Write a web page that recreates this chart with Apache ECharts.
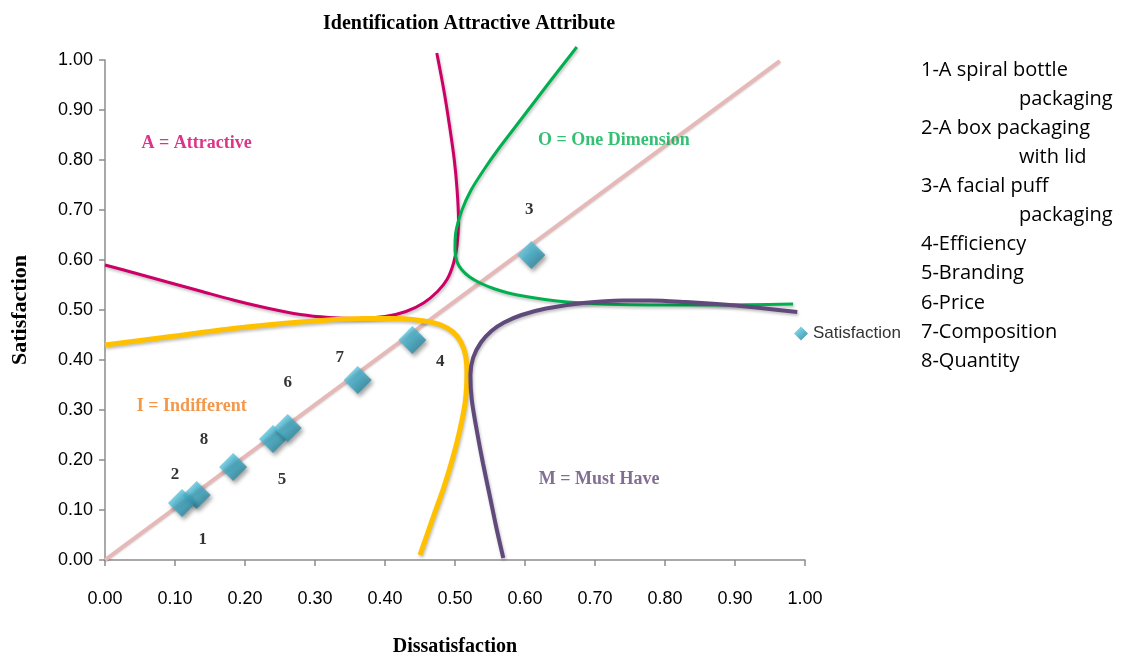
<!DOCTYPE html>
<html>
<head>
<meta charset="utf-8">
<script src="https://cdn.jsdelivr.net/npm/echarts@6/dist/echarts.min.js"></script>
<style>
  html, body { margin: 0; padding: 0; background: #fff; }
  #chart { width: 1125px; height: 658px; }
</style>
</head>
<body>
<div id="chart"></div>
<script>
// scatter points (dissatisfaction, satisfaction) and their numbers
var pointNames = ['1', '2', '3', '4', '5', '6', '7', '8'];
var pointX = [0.131, 0.110, 0.609, 0.439, 0.240, 0.261, 0.361, 0.183];
var pointY = [0.130, 0.114, 0.610, 0.440, 0.242, 0.264, 0.360, 0.186];

// diagonal reference line
var diagX = [0, 0.964];
var diagY = [0, 0.998];

// A = Attractive curve
var attrX = [0.000, 0.045, 0.089, 0.136, 0.183, 0.231, 0.279, 0.320, 0.360, 0.400, 0.430, 0.455, 0.475, 0.489, 0.498, 0.503, 0.505, 0.503, 0.499, 0.492, 0.484, 0.474];
var attrY = [0.590, 0.573, 0.556, 0.538, 0.520, 0.504, 0.491, 0.485, 0.483, 0.487, 0.497, 0.514, 0.537, 0.562, 0.594, 0.630, 0.680, 0.740, 0.800, 0.870, 0.940, 1.014];

// O = One Dimension curve
var oneX = [0.674, 0.654, 0.634, 0.610, 0.586, 0.561, 0.541, 0.523, 0.510, 0.501, 0.500, 0.503, 0.510, 0.521, 0.536, 0.557, 0.589, 0.660, 0.779, 0.874, 0.983];
var oneY = [1.026, 0.990, 0.954, 0.910, 0.866, 0.820, 0.780, 0.740, 0.700, 0.654, 0.620, 0.596, 0.580, 0.566, 0.554, 0.542, 0.530, 0.516, 0.510, 0.510, 0.512];

// I = Indifferent curve
var indX = [0.000, 0.089, 0.183, 0.279, 0.374, 0.420, 0.456, 0.480, 0.497, 0.508, 0.515, 0.517, 0.515, 0.507, 0.496, 0.484, 0.470, 0.460, 0.450];
var indY = [0.430, 0.446, 0.463, 0.476, 0.483, 0.483, 0.478, 0.470, 0.456, 0.437, 0.410, 0.374, 0.320, 0.260, 0.200, 0.145, 0.090, 0.050, 0.010];

// M = Must Have curve
var mustX = [0.569, 0.559, 0.550, 0.540, 0.531, 0.524, 0.522, 0.526, 0.537, 0.552, 0.570, 0.595, 0.630, 0.683, 0.740, 0.779, 0.830, 0.874, 0.930, 0.989];
var mustY = [0.004, 0.065, 0.126, 0.193, 0.260, 0.320, 0.370, 0.405, 0.435, 0.458, 0.475, 0.490, 0.503, 0.514, 0.519, 0.519, 0.516, 0.512, 0.505, 0.496];

// region captions
var regionNames = ['A = Attractive', 'O = One Dimension', 'I = Indifferent', 'M = Must Have'];
var regionX = [0.131, 0.727, 0.124, 0.706];
var regionY = [0.834, 0.840, 0.308, 0.162];

// key on the right
var keyLines = [
  '1-A spiral bottle', 'packaging', '2-A box packaging', 'with lid',
  '3-A facial puff', 'packaging', '4-Efficiency', '5-Branding',
  '6-Price', '7-Composition', '8-Quantity'
];

// label offsets (px) for the point numbers
var numOffsets = [[6, 45], [-7, -28], [-2, -45], [28, 22], [9, 41], [0, -45], [-18, -22], [-29, -27]];
var regionColors = ['#d4006b', '#00b050', '#f07d1e', '#604a7b'];

function pairs(xs, ys) {
  var out = [];
  for (var i = 0; i < xs.length; i++) {
    out.push([xs[i], ys[i]]);
  }
  return out;
}

function curve(name, xs, ys, color, width) {
  return {
    name: name,
    type: 'line',
    data: pairs(xs, ys),
    smooth: 0.3,
    showSymbol: false,
    clip: false,
    silent: true,
    z: 3,
    lineStyle: {
      color: color,
      width: width,
      shadowColor: 'rgba(0,0,0,0.25)',
      shadowBlur: 3,
      shadowOffsetX: 1,
      shadowOffsetY: 2
    }
  };
}

function fmt(v) {
  return v.toFixed(2);
}

var axisCommon = {
  type: 'value',
  min: 0,
  max: 1,
  interval: 0.1,
  splitLine: { show: false },
  axisLine: { show: true, lineStyle: { color: '#8c8c8c', width: 1.5 } },
  axisTick: { show: true, length: 6, lineStyle: { color: '#8c8c8c', width: 1.5 } }
};

var pointData = [];
for (var i = 0; i < pointX.length; i++) {
  pointData.push({
    value: [pointX[i], pointY[i]],
    name: pointNames[i],
    label: { offset: numOffsets[i] }
  });
}

var regionData = [];
for (var r = 0; r < regionNames.length; r++) {
  regionData.push({
    value: [regionX[r], regionY[r]],
    name: regionNames[r],
    label: { color: regionColors[r] }
  });
}

var keyGraphics = [];
for (var k = 0; k < keyLines.length; k++) {
  var indent = !/^\d/.test(keyLines[k]);
  keyGraphics.push({
    type: 'text',
    left: indent ? 1019 : 921,
    top: 60 + k * 29.1,
    style: {
      text: keyLines[k],
      font: '20px "Open Sans"',
      fill: '#000'
    }
  });
}

var options = {
  animation: false,
  title: {
    text: 'Identification Attractive Attribute',
    left: 318,
    top: 9,
    textStyle: {
      fontFamily: 'Liberation Serif',
      fontWeight: 'bold',
      fontSize: 20,
      color: '#000'
    }
  },
  legend: {
    data: ['Satisfaction'],
    left: 789,
    top: 320,
    icon: 'diamond',
    itemWidth: 14,
    itemHeight: 14,
    itemGap: 4,
    textStyle: {
      fontFamily: 'Liberation Sans',
      fontSize: 17,
      color: '#333'
    }
  },
  grid: {
    left: 105,
    right: 320,
    top: 60,
    bottom: 98,
    containLabel: false,
    outerBoundsMode: 'none'
  },
  xAxis: Object.assign({}, axisCommon, {
    name: 'Dissatisfaction',
    nameLocation: 'middle',
    nameGap: 77,
    nameTextStyle: {
      fontFamily: 'Liberation Serif',
      fontWeight: 'bold',
      fontSize: 20,
      color: '#000'
    },
    axisLabel: {
      margin: 30,
      fontFamily: 'Liberation Sans',
      fontSize: 18,
      color: '#000',
      formatter: fmt
    }
  }),
  yAxis: Object.assign({}, axisCommon, {
    name: 'Satisfaction',
    nameLocation: 'middle',
    nameGap: 74,
    nameTextStyle: {
      fontFamily: 'Liberation Serif',
      fontWeight: 'bold',
      fontSize: 22,
      color: '#000'
    },
    axisLabel: {
      margin: 12,
      fontFamily: 'Liberation Sans',
      fontSize: 18,
      color: '#000',
      formatter: fmt
    }
  }),
  graphic: keyGraphics,
  series: [
    {
      name: 'diagonal',
      type: 'line',
      data: pairs(diagX, diagY),
      showSymbol: false,
      silent: true,
      z: 2,
      lineStyle: {
        color: '#e6b9b8',
        width: 4,
        shadowColor: 'rgba(0,0,0,0.2)',
        shadowBlur: 2,
        shadowOffsetY: 1
      }
    },
    curve('A = Attractive', attrX, attrY, '#cc0066', 3),
    curve('O = One Dimension', oneX, oneY, '#00b050', 3),
    curve('I = Indifferent', indX, indY, '#ffc000', 5),
    curve('M = Must Have', mustX, mustY, '#604a7b', 4),
    {
      name: 'Satisfaction',
      type: 'scatter',
      data: pointData,
      symbol: 'diamond',
      symbolSize: 28,
      z: 5,
      itemStyle: {
        color: {
          type: 'linear', x: 0, y: 0, x2: 1, y2: 1,
          colorStops: [
            { offset: 0, color: '#86dcf0' },
            { offset: 0.45, color: '#3fb0cc' },
            { offset: 1, color: '#1c6e84' }
          ]
        },
        shadowColor: 'rgba(0,0,0,0.45)',
        shadowBlur: 4,
        shadowOffsetX: 2,
        shadowOffsetY: 3
      },
      label: {
        show: true,
        position: 'inside',
        formatter: '{b}',
        fontFamily: 'Liberation Serif',
        fontWeight: 'bold',
        fontSize: 17,
        color: '#000'
      }
    },
    {
      name: 'regions',
      type: 'scatter',
      data: regionData,
      symbolSize: 0,
      silent: true,
      z: 6,
      label: {
        show: true,
        position: 'inside',
        formatter: '{b}',
        fontFamily: 'Liberation Serif',
        fontWeight: 'bold',
        fontSize: 18
      }
    }
  ]
};

var myChart = echarts.init(document.getElementById('chart'));
myChart.setOption(options);
window.addEventListener('resize', function () {
  myChart.resize();
});
</script>
</body>
</html>
